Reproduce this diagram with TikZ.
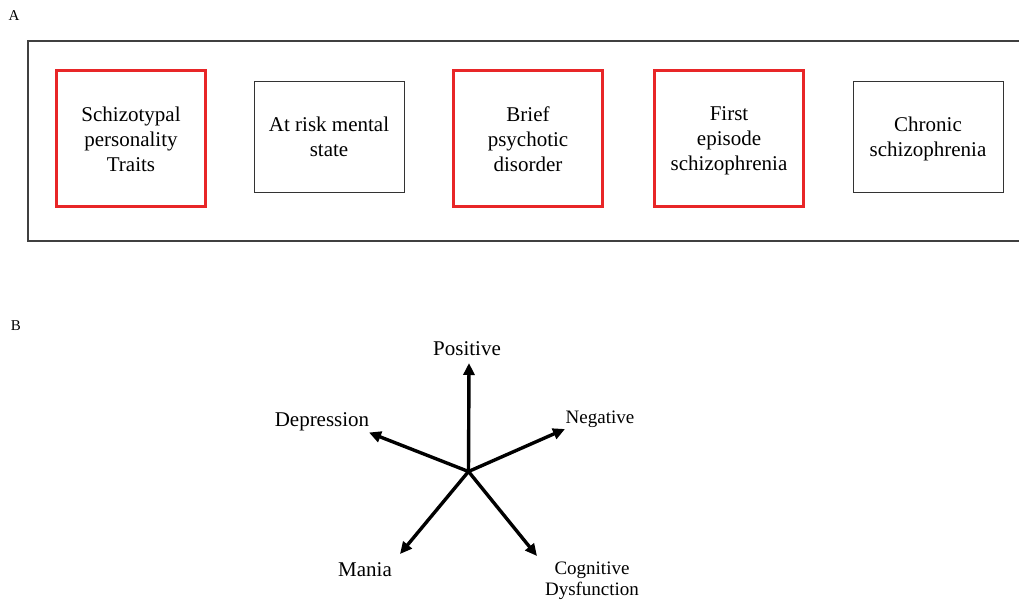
\documentclass[tikz,border=0pt]{standalone}
\usepackage{fontspec}
\setmainfont{Liberation Serif}
\usetikzlibrary{arrows.meta}
\definecolor{boxred}{RGB}{232,38,40}
% invisible struts for the first and last lines in a box
\newcommand{\topstr}{\rule{0pt}{19pt}}
\newcommand{\botstr}{\rule[-4pt]{0pt}{4pt}}
\begin{document}
\begin{tikzpicture}[
    x=1pt, y=-1pt,
    font=\fontsize{21}{25}\selectfont,
    stage/.style={draw=black!80, line width=1pt, minimum width=150pt, minimum height=111pt, align=center, inner sep=0pt},
    redstage/.style={stage, draw=boxred, line width=3pt, minimum width=149pt, minimum height=136pt},
    axis/.style={-{Triangle[length=12pt,width=11pt]}, line width=3.4pt},
    panel/.style={font=\fontsize{15}{18}\selectfont},
    small/.style={font=\fontsize{19}{21}\selectfont, align=center}
]
\useasboundingbox (0,0) rectangle (1019,602);

% Panel A
\node[panel] (lblA) at (14,16) {A};
\draw[black!75, line width=1.1pt] (1030,41) -- (28,41) -- (28,241) -- (1030,241);

% Stages
\node[redstage] (traits)  at (131,138.5) {\topstr Schizotypal\\personality\\Traits\botstr};
\node[stage]    (risk)    at (329,136.5) {\topstr At risk mental\\state\botstr};
\node[redstage] (brief)   at (528,138.5) {\topstr Brief\\psychotic\\disorder\botstr};
\node[redstage] (first)   at (729,138.5) {\topstr First\\episode\\schizophrenia\botstr};
\node[stage]    (chronic) at (928,136.5) {\topstr Chronic\\schizophrenia\botstr};

% Panel B
\node[panel] (lblB) at (16,326) {B};

\coordinate (hub)  at (468.5,471.5);
\coordinate (posT) at (469,363);
\coordinate (negT) at (565,429);
\coordinate (depT) at (369,432.5);
\coordinate (manT) at (400,554);
\coordinate (cogT) at (537,556);

\draw[axis] (hub) -- (posT);
\draw[axis] (hub) -- (negT);
\draw[axis] (hub) -- (depT);
\draw[axis] (hub) -- (manT);
\draw[axis] (hub) -- (cogT);

% Labels
\node (positive)   at (467,349) {Positive};
\node[small] (negative) at (600,419) {Negative};
\node (depression) at (322,422) {Depression};
\node (mania)      at (365,570) {Mania};
\node[small] (cognitive) at (592,580.5) {Cognitive\\Dysfunction};

\end{tikzpicture}
\end{document}
